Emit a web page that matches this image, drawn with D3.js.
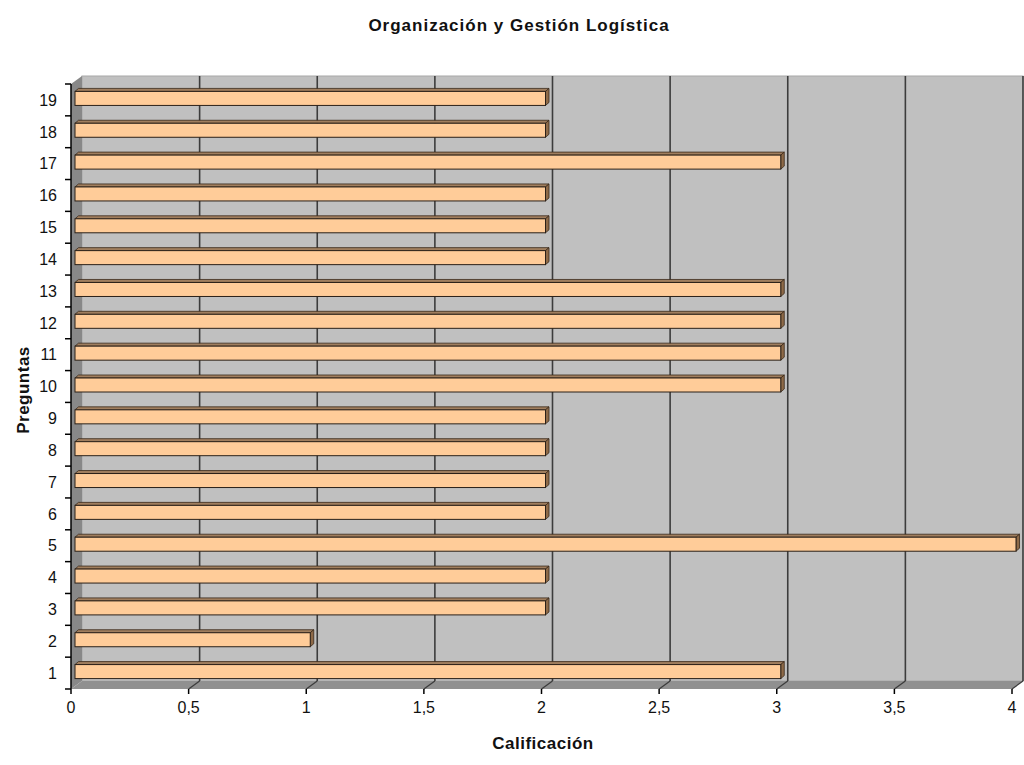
<!DOCTYPE html>
<html>
<head>
<meta charset="utf-8">
<script src="https://d3js.org/d3.v7.min.js"></script>
<style>
  html, body { margin: 0; padding: 0; background: #fff; }
  svg { display: block; font-family: "Liberation Sans", Arial, sans-serif; }
</style>
</head>
<body>
<svg id="chart" width="1024" height="765"></svg>
<script>
// Questions 1..19 and their scores
const categories = ["1","2","3","4","5","6","7","8","9","10","11","12","13","14","15","16","17","18","19"];
const scores = [3, 1, 2, 2, 4, 2, 2, 2, 2, 3, 3, 3, 3, 2, 2, 2, 3, 2, 2];
const xTicks = [0, 0.5, 1, 1.5, 2, 2.5, 3, 3.5, 4];
const xTickLabels = ["0", "0,5", "1", "1,5", "2", "2,5", "3", "3,5", "4"];

const titleText = "Organización y Gestión Logística";
const xAxisTitle = "Calificación";
const yAxisTitle = "Preguntas";

const svg = d3.select("#chart");

// front plane of the 3D plot box
const plotLeft = 71, plotRight = 1012, plotTop = 84, plotBottom = 689;
// depth of the box (offset of the back wall)
const DX = 11, DY = -8;

const x = d3.scaleLinear().domain([0, 4]).range([plotLeft, plotRight]);
const y = d3.scaleBand().domain(categories).range([plotBottom, plotTop]).padding(0);

// back wall
svg.append("rect")
  .attr("x", plotLeft + DX).attr("y", plotTop + DY)
  .attr("width", plotRight - plotLeft).attr("height", plotBottom - plotTop)
  .attr("fill", "#c0c0c0")
  .attr("stroke", "#a8a8a8").attr("stroke-width", 1);

// side wall
svg.append("polygon")
  .attr("points", [[plotLeft, plotTop], [plotLeft + DX, plotTop + DY], [plotLeft + DX, plotBottom + DY], [plotLeft, plotBottom]].join(" "))
  .attr("fill", "#888888");

// floor
svg.append("polygon")
  .attr("points", [[plotLeft, plotBottom], [plotLeft + DX, plotBottom + DY], [plotRight + DX, plotBottom + DY], [plotRight, plotBottom]].join(" "))
  .attr("fill", "#909090");

// gridlines on back wall and floor
const grid = svg.append("g");
xTicks.filter(v => v > 0).forEach(v => {
  const gx = x(v);
  grid.append("line")
    .attr("x1", gx + DX).attr("x2", gx + DX)
    .attr("y1", plotTop + DY).attr("y2", plotBottom + DY)
    .attr("stroke", "#3c3c3c").attr("stroke-width", 1.6);
  grid.append("line")
    .attr("x1", gx).attr("y1", plotBottom)
    .attr("x2", gx + DX).attr("y2", plotBottom + DY)
    .attr("stroke", "#3c3c3c").attr("stroke-width", 1.2);
});

// 3D bars, placed in the middle of the box depth
const fdx = 4, fdy = -1.5, ddx = 3.5, ddy = -3;
const barH = y.bandwidth() * 0.44;

const bars = svg.append("g").selectAll("g")
  .data(categories.map((c, i) => ({ c, v: scores[i] })))
  .join("g");

bars.each(function(d) {
  const g = d3.select(this);
  const cy = y(d.c) + y.bandwidth() / 2;
  const y0 = cy - barH / 2 + fdy, y1 = cy + barH / 2 + fdy;
  const xL = x(0) + fdx, xR = x(d.v) + fdx;
  // top face
  g.append("polygon")
    .attr("points", [[xL, y0], [xL + ddx, y0 + ddy], [xR + ddx, y0 + ddy], [xR, y0]].join(" "))
    .attr("fill", "#a07e5e").attr("stroke", "#3a2a1a").attr("stroke-width", 0.8);
  // end face
  g.append("polygon")
    .attr("points", [[xR, y0], [xR + ddx, y0 + ddy], [xR + ddx, y1 + ddy], [xR, y1]].join(" "))
    .attr("fill", "#8e6a48").attr("stroke", "#3a2a1a").attr("stroke-width", 0.8);
  // front face
  g.append("rect")
    .attr("x", xL).attr("y", y0)
    .attr("width", xR - xL).attr("height", y1 - y0)
    .attr("fill", "#ffcc99").attr("stroke", "#2a2018").attr("stroke-width", 1);
});

// category axis
svg.append("line")
  .attr("x1", plotLeft).attr("x2", plotLeft).attr("y1", plotTop).attr("y2", plotBottom)
  .attr("stroke", "#000").attr("stroke-width", 1.5);
const yTickPos = categories.map(c => y(c)).concat([plotBottom]);
svg.append("g").selectAll("line")
  .data(yTickPos)
  .join("line")
  .attr("x1", plotLeft - 6).attr("x2", plotLeft)
  .attr("y1", d => d).attr("y2", d => d)
  .attr("stroke", "#000").attr("stroke-width", 1.5);
svg.append("g").selectAll("text")
  .data(categories)
  .join("text")
  .attr("x", 57)
  .attr("y", d => y(d) + y.bandwidth() / 2)
  .attr("dy", "0.36em")
  .attr("text-anchor", "end")
  .attr("font-size", 16)
  .attr("fill", "#111")
  .text(d => d);

// value axis ticks and labels
svg.append("g").selectAll("line")
  .data(xTicks)
  .join("line")
  .attr("x1", d => x(d)).attr("x2", d => x(d))
  .attr("y1", plotBottom).attr("y2", plotBottom + 5)
  .attr("stroke", "#000").attr("stroke-width", 1.5);
svg.append("g").selectAll("text")
  .data(xTicks)
  .join("text")
  .attr("x", d => x(d))
  .attr("y", 713)
  .attr("text-anchor", "middle")
  .attr("font-size", 16)
  .attr("fill", "#111")
  .text((d, i) => xTickLabels[i]);

// titles
svg.append("text")
  .attr("x", 519).attr("y", 31)
  .attr("text-anchor", "middle")
  .attr("font-size", 17).attr("font-weight", "bold")
  .attr("letter-spacing", 1)
  .attr("fill", "#111")
  .text(titleText);

svg.append("text")
  .attr("x", 543).attr("y", 749)
  .attr("text-anchor", "middle")
  .attr("font-size", 17).attr("font-weight", "bold")
  .attr("letter-spacing", 0.5)
  .attr("fill", "#111")
  .text(xAxisTitle);

svg.append("text")
  .attr("transform", "translate(29,390) rotate(-90)")
  .attr("text-anchor", "middle")
  .attr("font-size", 17).attr("font-weight", "bold")
  .attr("letter-spacing", 0.5)
  .attr("fill", "#111")
  .text(yAxisTitle);
</script>
</body>
</html>
